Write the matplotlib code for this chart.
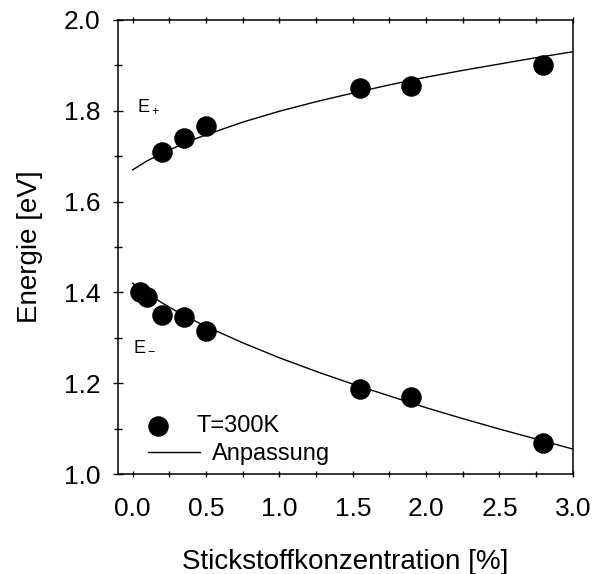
import matplotlib
matplotlib.use('Agg')
import matplotlib.pyplot as plt
from matplotlib.ticker import MultipleLocator

plt.rcParams['font.family'] = ['Liberation Sans', 'DejaVu Sans']
plt.rcParams['mathtext.fontset'] = 'custom'
plt.rcParams['mathtext.rm'] = 'Liberation Sans'

# measured peaks (nitrogen content in %, energy in eV)
x_plus = [0.20, 0.35, 0.50, 1.55, 1.90, 2.80]
e_plus = [1.710, 1.740, 1.766, 1.850, 1.855, 1.900]
x_minus = [0.05, 0.10, 0.20, 0.35, 0.50, 1.55, 1.90, 2.80]
e_minus = [1.400, 1.390, 1.350, 1.345, 1.315, 1.188, 1.170, 1.068]

# fitted curves, read at fixed concentrations
x_fit = [0.0, 0.05, 0.1, 0.2, 0.3, 0.4, 0.5, 0.75, 1.0, 1.25, 1.5,
         1.75, 2.0, 2.25, 2.5, 2.75, 3.0]
fit_plus = [1.670, 1.680, 1.690, 1.706, 1.721, 1.735, 1.747, 1.775, 1.799,
            1.820, 1.839, 1.857, 1.874, 1.889, 1.903, 1.917, 1.930]
fit_minus = [1.420, 1.408, 1.397, 1.377, 1.358, 1.341, 1.325, 1.289, 1.256,
             1.226, 1.198, 1.172, 1.146, 1.122, 1.099, 1.077, 1.055]

fig = plt.figure(figsize=(5.93, 5.74), dpi=100)
ax = fig.add_axes([0.199, 0.1742, 0.767, 0.791])

dots = ax.scatter(x_plus, e_plus, s=190, color='black', zorder=3)
ax.scatter(x_minus, e_minus, s=190, color='black', zorder=3)
fit_line, = ax.plot(x_fit, fit_plus, color='black', lw=1.0)
ax.plot(x_fit, fit_minus, color='black', lw=1.0)

ax.text(0.03, 1.81, r'E$_+$', fontsize=13, va='center', ha='left')
ax.text(0.0, 1.282, r'E$_-$', fontsize=13, va='center', ha='left')

ax.set_xlim(-0.1, 3.0)
ax.set_ylim(1.0, 2.0)
ax.xaxis.set_major_locator(MultipleLocator(0.5))
ax.xaxis.set_minor_locator(MultipleLocator(0.25))
ax.yaxis.set_major_locator(MultipleLocator(0.2))
ax.yaxis.set_minor_locator(MultipleLocator(0.1))
ax.set_xticks([0.0, 0.5, 1.0, 1.5, 2.0, 2.5, 3.0])
ax.set_xticklabels(['0.0', '0.5', '1.0', '1.5', '2.0', '2.5', '3.0'])
ax.set_yticks([1.0, 1.2, 1.4, 1.6, 1.8, 2.0])
ax.set_yticklabels(['1.0', '1.2', '1.4', '1.6', '1.8', '2.0'])

ax.tick_params(axis='x', which='both', direction='inout', length=5, width=1.0,
               top=True, bottom=True, labelsize=19, pad=14)
ax.tick_params(axis='y', which='major', direction='inout', length=7, width=1.0,
               left=True, right=False, labelsize=19, pad=9)
ax.tick_params(axis='y', which='minor', direction='inout', length=6, width=1.0,
               left=True, right=False)
for sp in ax.spines.values():
    sp.set_linewidth(1.1)

ax.set_xlabel('Stickstoffkonzentration [%]', fontsize=20, labelpad=20)
ax.set_ylabel('Energie [eV]', fontsize=20, labelpad=15)

leg1 = ax.legend([dots], ['T=300K'], loc='center left',
                 bbox_to_anchor=(0.066, 0.106), frameon=False, fontsize=17,
                 scatterpoints=1, handlelength=0.85, handletextpad=1.2,
                 borderpad=0, borderaxespad=0)
ax.add_artist(leg1)
ax.legend([fit_line], ['Anpassung'], loc='center left',
          bbox_to_anchor=(0.066, 0.044), frameon=False, fontsize=17,
          handlelength=2.2, handletextpad=0.5, borderpad=0, borderaxespad=0)

fig.savefig('out.png', dpi=100)
